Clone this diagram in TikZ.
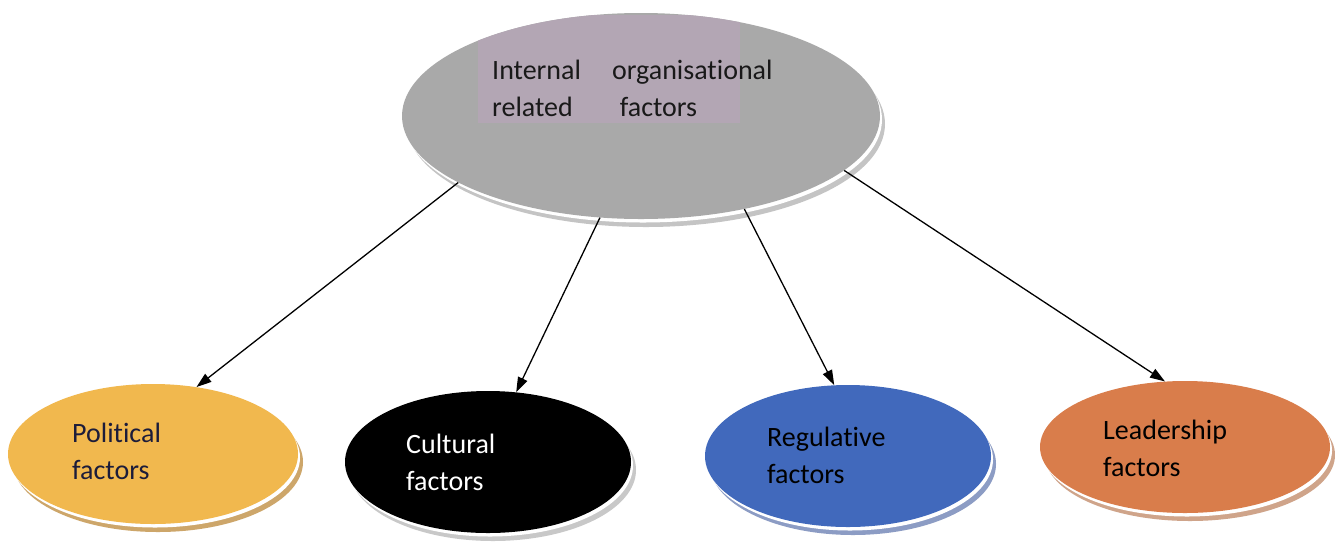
\documentclass[tikz,border=0pt]{standalone}
\usepackage{fontspec}
\setmainfont{Carlito}[Ligatures=NoCommon]
\usetikzlibrary{shapes.geometric,arrows.meta,shadows}
\definecolor{topgray}{HTML}{A9A9A9}
\definecolor{topshadow}{HTML}{C4C4C4}
\definecolor{rectpurple}{HTML}{B3A6B4}
\definecolor{polfill}{HTML}{F1B84E}
\definecolor{polshadow}{HTML}{CDA66A}
\definecolor{culshadow}{HTML}{C8C8C8}
\definecolor{regfill}{HTML}{4169BC}
\definecolor{regshadow}{HTML}{8C9CC4}
\definecolor{leadfill}{HTML}{D97D4B}
\definecolor{leadshadow}{HTML}{CFA48A}
\definecolor{navytext}{HTML}{1C1C3A}
\begin{document}
\begin{tikzpicture}[x=1pt,y=-1pt,
  blob/.style n args={2}{ellipse, inner sep=0pt, fill=#1,
    drop shadow={shadow xshift=5pt, shadow yshift=-8pt, fill=#2, opacity=1},
    drop shadow={shadow xshift=2pt, shadow yshift=-3.5pt, fill=white, opacity=1}},
  lbl/.style={anchor=base west, inner sep=0pt, align=left,
    font=\fontsize{28}{37}\selectfont},
  conn/.style={line width=1.3pt, -{Triangle[length=15pt,width=10pt]}}]
\useasboundingbox (0,0) rectangle (1335,542);
\fill[white] (0,0) rectangle (1335,542);

% top ellipse
\node[blob={topgray}{topshadow}, minimum width=478pt, minimum height=206pt] (top) at (641,116) {};
\begin{scope}
  \clip (641,116) ellipse [x radius=239, y radius=103];
  \fill[rectpurple] (478,15) rectangle (740,123);
\end{scope}
% base anchor = baseline of the last line
\node[lbl, text=black!90] (toptext) at (492,116) {Internal\hspace*{31pt}organisational\\related\hspace*{47pt}factors};

% bottom ellipses
\node[blob={polfill}{polshadow}, minimum width=290pt, minimum height=140pt] (pol) at (153,454) {};
\node[blob={black}{culshadow}, minimum width=286pt, minimum height=142pt] (cul) at (488,462) {};
\node[blob={regfill}{regshadow}, minimum width=286pt, minimum height=142pt] (reg) at (848,456) {};
\node[blob={leadfill}{leadshadow}, minimum width=290pt, minimum height=132pt] (lead) at (1185,447) {};

\node[lbl, text=navytext] (poltext) at (72,479) {Political\\factors};
\node[lbl, text=white] (cultext) at (406,490) {Cultural\\factors};
\node[lbl, text=black] (regtext) at (767,483) {Regulative\\factors};
\node[lbl, text=black] (leadtext) at (1103,476) {Leadership\\factors};

% connectors
\draw[conn] (top.200) -- (pol.57.8);
\draw[conn] (top.248.2) -- (cul.68.6);
\draw[conn] (top.-42.1) -- (reg.101.9);
\draw[conn] (top.-15.8) -- (lead.107.1);
\end{tikzpicture}
\end{document}
